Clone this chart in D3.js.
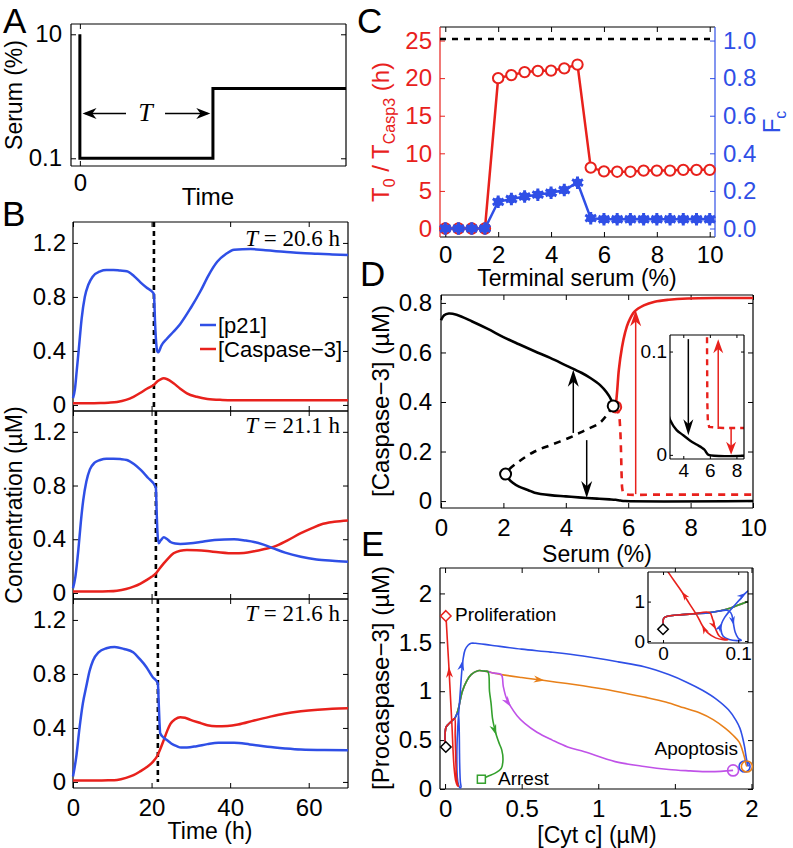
<!DOCTYPE html>
<html><head><meta charset="utf-8">
<script src="https://cdn.jsdelivr.net/npm/d3@7"></script>
<style>body{margin:0;background:#fff} svg{display:block} svg{font-family:"Liberation Sans",Arial,sans-serif}</style>
</head><body><svg id="fig" width="793" height="848"></svg>
<script>
// ---------------- DATA ----------------
// Panel A: serum protocol
const aTime  = [0, 0, 15, 15, 30];
const aSerum = [10, 0.1, 0.1, 1.33, 1.33];
const aYTicks = [0.1, 10];

// Panel B: time courses (h, µM)
const bSwitchT = [20.6, 21.1, 21.6];
const bLabels = ["20.6", "21.1", "21.6"];
const bTimeTicks = [0, 20, 40, 60];
const bConcTicks = [0, 0.4, 0.8, 1.2];
const b1P21 = [[0,0.05],[0.5,0.12],[0.94,0.25],[1.5,0.42],[2.2,0.64],[3,0.8],[3.9,0.89],[5,0.95],[6.9,0.99],[8.5,1.0],[10.3,1.0],[12,0.995],[13.7,0.99],[15.5,0.955],[17.1,0.91],[18.7,0.87],[20.1,0.84],[20.6,0.82],[20.9,0.6],[21.2,0.45],[21.5,0.395],[21.7,0.39],[22.5,0.44],[23.9,0.49],[25.5,0.54],[27.3,0.6],[30,0.72],[32.4,0.84],[34.5,0.96],[36.7,1.06],[39,1.12],[41,1.15],[45.2,1.155],[49,1.145],[53.7,1.135],[58,1.125],[62.3,1.12],[66,1.115],[70,1.11]];
const b1Casp = [[0,0.012],[4,0.012],[7,0.014],[9,0.017],[11.2,0.022],[13.5,0.037],[15.4,0.06],[17.2,0.09],[18.8,0.12],[20.6,0.15],[21.5,0.175],[22.3,0.19],[23.1,0.197],[24,0.19],[25.6,0.16],[27.3,0.12],[29,0.086],[31.5,0.06],[34.2,0.044],[38,0.037],[41,0.035],[50,0.034],[70,0.035]];
const b2P21 = [[0,0.035],[0.6,0.12],[1.36,0.32],[2,0.53],[2.6,0.69],[3.4,0.83],[4.3,0.92],[5.5,0.97],[6.9,0.99],[8.5,1.0],[10.3,1.0],[12,0.997],[13.7,0.99],[15.5,0.96],[17.1,0.92],[19,0.86],[21.0,0.79],[21.1,0.78],[21.3,0.6],[21.5,0.45],[21.8,0.37],[22.3,0.39],[23.1,0.415],[24,0.4],[24.8,0.38],[26,0.368],[27.3,0.365],[30,0.37],[32.4,0.38],[36,0.395],[41,0.4],[44,0.39],[46.1,0.38],[48.5,0.36],[51.2,0.33],[54,0.3],[58,0.27],[62,0.25],[66,0.24],[70,0.233]];
const b2Casp = [[0,0.01],[6,0.01],[9,0.012],[11.2,0.017],[13.5,0.03],[15.4,0.047],[17.2,0.07],[18.8,0.097],[20,0.12],[21.1,0.146],[22,0.18],[23.1,0.22],[24.3,0.26],[25.6,0.295],[27.3,0.315],[29,0.32],[31.5,0.318],[34.2,0.312],[37,0.303],[41,0.295],[43.5,0.298],[46.1,0.31],[48.5,0.325],[51.2,0.345],[54.5,0.39],[58,0.445],[61,0.485],[63.1,0.51],[66.5,0.53],[70,0.54]];
const b3P21 = [[0,0.04],[0.8,0.18],[1.7,0.41],[2.5,0.58],[3.4,0.71],[4.2,0.82],[5.1,0.9],[6.5,0.96],[8.5,0.99],[10.6,1.0],[13,0.985],[15.3,0.96],[17,0.91],[18.7,0.85],[20.2,0.78],[21.6,0.73],[21.8,0.6],[22.0,0.45],[22.2,0.36],[23,0.33],[23.9,0.31],[25,0.285],[26.4,0.265],[27.5,0.255],[29,0.255],[31.5,0.265],[34.2,0.28],[37,0.29],[41,0.29],[45,0.278],[49.5,0.26],[54,0.248],[58,0.24],[64,0.236],[70,0.235]];
const b3Casp = [[0,0.01],[6,0.01],[9,0.012],[11.2,0.015],[13.5,0.03],[15.4,0.05],[17.2,0.08],[18.8,0.11],[20.2,0.145],[21.4,0.19],[22.3,0.25],[23.1,0.31],[24,0.38],[24.8,0.43],[26,0.465],[27.3,0.48],[28.5,0.475],[29.9,0.46],[32,0.44],[34.2,0.42],[36.5,0.413],[39.3,0.415],[42,0.425],[46.1,0.455],[50,0.482],[53.7,0.505],[58,0.523],[62.3,0.535],[66,0.542],[70,0.545]];

// Panel C
const cSerum = [0,0.5,1,1.5,2,2.5,3,3.5,4,4.5,5,5.5,6,6.5,7,7.5,8,8.5,9,9.5,10];
const cT0 = [0,0,0,0,20.0,20.4,20.8,20.95,21.0,21.3,21.8,8.1,7.6,7.55,7.55,7.7,7.7,7.7,7.8,7.8,7.8];
const cFc = [0,0,0,0,0.142,0.157,0.17,0.18,0.19,0.205,0.244,0.055,0.049,0.049,0.049,0.049,0.049,0.049,0.049,0.049,0.049];
const cRef = 25.2;
const cXTicks = [0,2,4,6,8,10];
const cLTicks = [0,5,10,15,20,25];
const cRTicks = [0,0.2,0.4,0.6,0.8,1.0];

// Panel D: bifurcation diagram
const dUpper = [[0,0.73],[0.1,0.75],[0.25,0.757],[0.5,0.752],[1,0.725],[1.5,0.695],[2,0.662],[2.5,0.633],[3,0.605],[3.5,0.578],[4,0.548],[4.5,0.518],[4.8,0.496],[5.1,0.468],[5.3,0.44],[5.45,0.41],[5.52,0.384]];
const dUnstable = [[5.52,0.384],[5.3,0.345],[5.07,0.314],[4.6,0.285],[4.2,0.26],[3.6,0.23],[3.0,0.2],[2.5,0.16],[2.2,0.13],[2.07,0.109]];
const dLower = [[2.07,0.109],[2.15,0.092],[2.3,0.074],[2.5,0.058],[2.8,0.044],[3,0.034],[3.5,0.024],[4,0.019],[4.5,0.014],[5,0.01],[5.4,0.007],[5.6,0.005],[5.75,0.002],[5.9,0.0],[10,0.0]];
const dRedUp = [[5.6,0.38],[5.65,0.45],[5.7,0.53],[5.8,0.62],[5.9,0.68],[6.0,0.72],[6.2,0.765],[6.5,0.79],[6.85,0.805],[7.3,0.813],[7.9,0.818],[9,0.82],[10,0.82]];
const dRedDown = [[5.6,0.38],[5.7,0.35],[5.74,0.3],[5.77,0.2],[5.79,0.1],[5.81,0.05],[5.85,0.032],[5.95,0.027],[7,0.026],[10,0.026]];
const dFolds = [[5.52,0.384],[2.07,0.109]];
const dXTicks = [0,2,4,6,8,10];
const dYTicks = [0,0.2,0.4,0.6,0.8];
const dInXTicks = [4,6,8];
const dInYTicks = [0,0.1];

// Panel E: trajectories in [Cyt c]-[Procaspase-3] plane
const eShared = [[0.0,0.45],[0.001,0.58],[0.006,0.63],[0.02,0.66],[0.04,0.69],[0.062,0.72]];
const eSharedUp = [[0.075,0.76],[0.09,0.84],[0.113,1.0],[0.14,1.1],[0.17,1.17],[0.215,1.21],[0.26,1.205],[0.28,1.2]];
const eRedTail = [[0.066,0.55],[0.07,0.3],[0.075,0.12],[0.082,0.05],[0.086,0.03],[0.08,0.035],[0.07,0.08],[0.06,0.2],[0.052,0.4],[0.046,0.62],[0.035,0.95],[0.025,1.25],[0.015,1.52],[0.006,1.77]];
const eBlueTail = [[0.075,0.76],[0.085,0.78],[0.09,0.72],[0.093,0.55],[0.094,0.4],[0.096,0.22],[0.1,0.07],[0.104,0.02],[0.098,0.01],[0.088,0.04],[0.08,0.12],[0.077,0.3],[0.078,0.45],[0.082,0.6],[0.088,0.75],[0.095,0.9],[0.102,1.05],[0.11,1.22],[0.117,1.32],[0.13,1.42],[0.15,1.47],[0.17,1.49],[0.2,1.49],[0.3,1.47],[0.5,1.43],[0.69,1.40],[0.9,1.36],[1.13,1.30],[1.3,1.25],[1.46,1.17],[1.58,1.09],[1.68,1.01],[1.77,0.92],[1.85,0.81],[1.9,0.7],[1.925,0.62],[1.94,0.54],[1.955,0.43],[1.965,0.33],[1.975,0.25],[1.98,0.23]];
const eGreenTail = [[0.29,1.0],[0.30,0.88],[0.31,0.72],[0.32,0.64],[0.335,0.55],[0.355,0.46],[0.37,0.4],[0.378,0.3],[0.367,0.21],[0.345,0.18],[0.324,0.16],[0.28,0.13],[0.237,0.1]];
const eOrangeTail = [[0.32,1.185],[0.367,1.17],[0.5,1.14],[0.65,1.11],[0.9,1.055],[1.11,1.0],[1.3,0.94],[1.44,0.89],[1.56,0.83],[1.66,0.78],[1.75,0.71],[1.83,0.62],[1.88,0.55],[1.92,0.48],[1.94,0.4],[1.955,0.32],[1.965,0.25],[1.97,0.23]];
const eMagentaTail = [[0.32,1.185],[0.367,1.17],[0.38,1.05],[0.40,0.93],[0.43,0.84],[0.47,0.75],[0.52,0.67],[0.6,0.58],[0.7,0.5],[0.8,0.43],[0.91,0.38],[1.11,0.28],[1.3,0.23],[1.46,0.2],[1.6,0.185],[1.68,0.178],[1.8,0.18],[1.88,0.19]];
const eStart = [0.005, 0.43];
const eProlif = [0.005, 1.77];
const eArrest = [0.237, 0.1];
const eApop = [[1.88,0.19],[1.955,0.23],[1.97,0.23]];
const eXTicks = [0,0.5,1,1.5,2];
const eYTicks = [0,0.5,1,1.5,2];
const eInXTicks = [0,0.1];
const eInYTicks = [0,1];

// ---------------- DRAWING ----------------
const BLUE='#2f4fe6', RED='#e8211c', GREEN='#33a02c', ORANGE='#e8801a', MAGENTA='#c052e8';
const FS = 24;
const SERIF = '"Liberation Serif","DejaVu Serif",serif';
const svg = d3.select('#fig');
const defs = svg.append('defs');

function axes(g, xS, yS, o) {
  const [x0, x1] = xS.range(), [y0, y1] = yS.range();
  const tl = o.tl || 5, fs = o.fs || FS;
  const mk = (axis, tr, vals, fmt, pad, color) => {
    const a = g.append('g').attr('transform', tr)
      .call(axis.tickValues(vals).tickSize(-tl).tickPadding(pad).tickFormat(fmt));
    a.select('.domain').remove();
    a.attr('font-family', null).attr('font-size', null);
    a.selectAll('line').attr('stroke', color || '#000').attr('stroke-width', 1);
    a.selectAll('text').attr('font-size', fs).attr('fill', color || '#000');
    return a;
  };
  const none = () => '';
  mk(d3.axisBottom(xS), `translate(0,${y0})`, o.xt, o.xf || none, o.xpad ?? 13);
  mk(d3.axisTop(xS), `translate(0,${y1})`, o.xt, none, 0);
  mk(d3.axisLeft(yS), `translate(${x0},0)`, o.yt, o.yf || none, o.ypad ?? 8, o.lc);
  mk(d3.axisRight(o.yR || yS), `translate(${x1},0)`, o.ytR || o.yt, o.yfR || none, o.ypadR ?? 8, o.rc);
  const sw = o.sw || 1.2;
  g.append('line').attr('x1', x0).attr('x2', x1).attr('y1', y0).attr('y2', y0).attr('stroke', '#000').attr('stroke-width', sw);
  g.append('line').attr('x1', x0).attr('x2', x1).attr('y1', y1).attr('y2', y1).attr('stroke', '#000').attr('stroke-width', sw);
  g.append('line').attr('x1', x0).attr('x2', x0).attr('y1', y0).attr('y2', y1).attr('stroke', o.lc || '#000').attr('stroke-width', sw);
  g.append('line').attr('x1', x1).attr('x2', x1).attr('y1', y0).attr('y2', y1).attr('stroke', o.rc || '#000').attr('stroke-width', sw);
}
function fmtNum(d) { return String(d); }
function label(g, x, y, txt, o = {}) {
  return g.append('text').attr('x', x).attr('y', y).attr('text-anchor', o.anchor || 'middle')
    .attr('font-size', o.fs || FS).attr('fill', o.color || '#000').text(txt);
}
function vlabel(g, x, y, txt, o = {}) {
  return g.append('text').attr('transform', `translate(${x},${y}) rotate(-90)`).attr('text-anchor', 'middle')
    .attr('font-size', o.fs || FS).attr('fill', o.color || '#000').text(txt);
}
function head(g, x, y, ang, color, len, wid) {
  g.append('path').attr('d', `M0,0 L${-len},${-wid/2} L${-len*0.7},0 L${-len},${wid/2} Z`)
    .attr('transform', `translate(${x},${y}) rotate(${ang})`).attr('fill', color);
}
function vArrow(g, xS, yS, x, ya, yb, color, w, len, wid) {
  const px = xS(x), p1 = yS(ya), p2 = yS(yb);
  const dir = p2 < p1 ? -1 : 1;
  g.append('line').attr('x1', px).attr('x2', px).attr('y1', p1).attr('y2', p2 - dir * len * 0.6)
    .attr('stroke', color).attr('stroke-width', w);
  head(g, px, p2, dir < 0 ? -90 : 90, color, len, wid);
}
function pathArrow(g, pts, xS, yS, ax, ay, color, len, wid) {
  let best = 0, bd = Infinity;
  pts.forEach((p, i) => {
    const dx = xS(p[0]) - xS(ax), dy = yS(p[1]) - yS(ay);
    const d = dx * dx + dy * dy; if (d < bd) { bd = d; best = i; }
  });
  const i = Math.min(best, pts.length - 2);
  const a = pts[i], b = pts[i + 1];
  const ang = Math.atan2(yS(b[1]) - yS(a[1]), xS(b[0]) - xS(a[0])) * 180 / Math.PI;
  const t = pts[best];
  head(g, xS(t[0]), yS(t[1]), ang, color, len, wid);
}
function clip(id, x, y, w, h) {
  defs.append('clipPath').attr('id', id).append('rect').attr('x', x).attr('y', y).attr('width', w).attr('height', h);
  return `url(#${id})`;
}
function letter(t, x, y) { label(svg, x, y, t, { fs: 35, anchor: 'start' }); }

// ---------- Panel A ----------
{
  const g = svg.append('g');
  const xS = d3.scaleLinear().domain([-1, 30]).range([71, 346]);
  const yS = d3.scaleLog().domain([0.0751, 14.65]).range([166, 24]);
  axes(g, xS, yS, { xt: [0], yt: aYTicks, xf: fmtNum, yf: d => d >= 10 ? '10' : '0.1', xpad: 8, ypad: 9 });
  const pts = aTime.map((t, i) => [t, aSerum[i]]);
  g.append('path').attr('d', d3.line().x(d => xS(d[0])).y(d => yS(d[1]))(pts))
    .attr('fill', 'none').attr('stroke', '#000').attr('stroke-width', 3);
  const ay = yS(0.53);
  g.append('line').attr('x1', xS(0.6)).attr('x2', xS(5.2)).attr('y1', ay).attr('y2', ay).attr('stroke', '#000').attr('stroke-width', 1.5);
  g.append('line').attr('x1', xS(9.6)).attr('x2', xS(14.4)).attr('y1', ay).attr('y2', ay).attr('stroke', '#000').attr('stroke-width', 1.5);
  head(g, xS(0.3), ay, 180, '#000', 14, 11);
  head(g, xS(14.7), ay, 0, '#000', 14, 11);
  g.append('text').attr('x', xS(7.4)).attr('y', ay + 8).attr('text-anchor', 'middle')
    .style('font-family', SERIF).style('font-style', 'italic').attr('font-size', 26).text('T');
  vlabel(g, 22, 95, 'Serum (%)', { fs: 23 });
  label(g, 208, 205, 'Time');
  letter('A', 3, 33);
}

// ---------- Panel B ----------
{
  const xS = d3.scaleLinear().domain([0, 70]).range([73, 348]);
  const ranges = [[411, 222], [599, 411], [788, 599]];
  const series = [[b1P21, b1Casp], [b2P21, b2Casp], [b3P21, b3Casp]];
  ranges.forEach((r, k) => {
    const g = svg.append('g');
    const yS = d3.scaleLinear().domain([-0.045, 1.355]).range(r);
    axes(g, xS, yS, { xt: bTimeTicks, yt: bConcTicks, xf: k === 2 ? fmtNum : null, yf: fmtNum, ypad: 7, xpad: 11 });
    const ln = d3.line().x(d => xS(d[0])).y(d => yS(d[1])).curve(d3.curveMonotoneX);
    const yBot = k === 2 ? yS(0) : r[0];
    g.append('line').attr('x1', xS(bSwitchT[k])).attr('x2', xS(bSwitchT[k])).attr('y1', r[1]).attr('y2', yBot)
      .attr('stroke', '#000').attr('stroke-width', 2.6).attr('stroke-dasharray', '5,4');
    g.append('path').attr('d', ln(series[k][1])).attr('fill', 'none').attr('stroke', RED).attr('stroke-width', 2.5);
    g.append('path').attr('d', ln(series[k][0])).attr('fill', 'none').attr('stroke', BLUE).attr('stroke-width', 2.5);
    const t = g.append('text').attr('x', 340).attr('y', r[1] + (k === 0 ? 24 : 22)).attr('text-anchor', 'end')
      .style('font-family', SERIF).attr('font-size', 23);
    t.append('tspan').style('font-style', 'italic').text('T');
    t.append('tspan').text(' = ' + bLabels[k] + ' h');
    if (k === 0) {
      [[BLUE, '[p21]', 325], [RED, '[Caspase\u22123]', 349]].forEach(([c, s, y]) => {
        g.append('line').attr('x1', 200).attr('x2', 216).attr('y1', y).attr('y2', y).attr('stroke', c).attr('stroke-width', 2.5);
        g.append('text').attr('x', 218).attr('y', y + 8).attr('font-size', 22).text(s);
      });
    }
  });
  vlabel(svg, 22, 505, 'Concentration (\u00b5M)', { fs: 23 });
  label(svg, 210, 839, 'Time (h)', { fs: 23 });
  letter('B', 2, 226);
}

// ---------- Panel C ----------
{
  const g = svg.append('g');
  const xS = d3.scaleLinear().domain([-0.2, 10.2]).range([440, 715]);
  const yL = d3.scaleLinear().domain([-1.13, 26.8]).range([237, 27]);
  const yR = d3.scaleLinear().domain([-1.13 / 25, 26.8 / 25]).range([237, 27]);
  axes(g, xS, yL, { xt: cXTicks, yt: cLTicks, xf: fmtNum, yf: fmtNum, xpad: 9, ypad: 8,
    yR: yR, ytR: cRTicks, yfR: d3.format('.1f'), ypadR: 8, lc: RED, rc: BLUE });
  g.append('line').attr('x1', 440).attr('x2', 715).attr('y1', yL(cRef)).attr('y2', yL(cRef))
    .attr('stroke', '#000').attr('stroke-width', 2.5).attr('stroke-dasharray', '6,6');
  const redPts = cSerum.map((s, i) => [s, cT0[i]]);
  const bluePts = cSerum.map((s, i) => [s, cFc[i]]);
  g.append('path').attr('d', d3.line().x(d => xS(d[0])).y(d => yL(d[1]))(redPts)).attr('fill', 'none').attr('stroke', RED).attr('stroke-width', 2.5);
  g.selectAll('.rc').data(redPts).join('circle').attr('cx', d => xS(d[0])).attr('cy', d => yL(d[1])).attr('r', 5.2)
    .attr('fill', '#fff').attr('stroke', RED).attr('stroke-width', 2);
  g.append('path').attr('d', d3.line().x(d => xS(d[0])).y(d => yR(d[1]))(bluePts)).attr('fill', 'none').attr('stroke', BLUE).attr('stroke-width', 2.5);
  const star = d3.symbol().type(d3.symbolAsterisk).size(110)();
  g.selectAll('.bs').data(bluePts).join('path').attr('d', star).attr('transform', d => `translate(${xS(d[0])},${yR(d[1])})`)
    .attr('fill', 'none').attr('stroke', BLUE).attr('stroke-width', 3);
  g.selectAll('.bc').data(bluePts).join('circle').attr('cx', d => xS(d[0])).attr('cy', d => yR(d[1])).attr('r', 4.5).attr('fill', BLUE);
  const tl = g.append('text').attr('transform', 'translate(389,132) rotate(-90)').attr('text-anchor', 'middle')
    .attr('font-size', FS).attr('fill', RED);
  tl.append('tspan').text('T');
  tl.append('tspan').attr('font-size', 16).attr('dy', 6).text('0');
  tl.append('tspan').attr('dy', -6).text(' / T');
  tl.append('tspan').attr('font-size', 16).attr('dy', 6).text('Casp3');
  tl.append('tspan').attr('dy', -6).text(' (h)');
  const tr = g.append('text').attr('transform', 'translate(780,122) rotate(-90)').attr('text-anchor', 'middle')
    .attr('font-size', FS).attr('fill', BLUE);
  tr.append('tspan').text('F');
  tr.append('tspan').attr('font-size', 16).attr('dy', 6).text('c');
  label(g, 577, 286, 'Terminal serum (%)', { fs: 23 });
  letter('C', 357, 33);
}

// ---------- Panel D ----------
{
  const g = svg.append('g');
  const xS = d3.scaleLinear().domain([0, 10]).range([441, 753]);
  const yS = d3.scaleLinear().domain([-0.028, 0.832]).range([508, 295]);
  axes(g, xS, yS, { xt: dXTicks, yt: dYTicks, xf: fmtNum, yf: fmtNum, xpad: 11, ypad: 9 });
  const draw = (gg, xs, ys, pts, color, w, dash, curve) => gg.append('path')
    .attr('d', d3.line().x(d => xs(d[0])).y(d => ys(d[1])).curve(curve || d3.curveCatmullRom)(pts))
    .attr('fill', 'none').attr('stroke', color).attr('stroke-width', w).attr('stroke-dasharray', dash || null);
  draw(g, xS, yS, dUpper, '#000', 2.6);
  draw(g, xS, yS, dUnstable, '#000', 2.6, '7,6');
  draw(g, xS, yS, dLower, '#000', 2.6);
  draw(g, xS, yS, dRedDown, RED, 2.6, '7,6');
  draw(g, xS, yS, dRedUp, RED, 2.6);
  vArrow(g, xS, yS, 4.24, 0.275, 0.53, '#000', 1.5, 17, 11);
  vArrow(g, xS, yS, 4.67, 0.246, 0.012, '#000', 1.5, 17, 11);
  vArrow(g, xS, yS, 6.24, 0.028, 0.77, RED, 1.5, 16, 11);
  g.append('circle').attr('cx', xS(5.6)).attr('cy', yS(0.38)).attr('r', 5.5).attr('fill', 'none').attr('stroke', RED).attr('stroke-width', 2);
  g.selectAll('.fold').data(dFolds).join('circle').attr('cx', d => xS(d[0])).attr('cy', d => yS(d[1])).attr('r', 5.5)
    .attr('fill', '#fff').attr('stroke', '#000').attr('stroke-width', 2);
  // inset
  const xi = d3.scaleLinear().domain([3, 8.57]).range([670, 744]);
  const yi = d3.scaleLinear().domain([-0.004, 0.116]).range([459, 335]);
  const gi = svg.append('g');
  gi.append('rect').attr('x', 670).attr('y', 335).attr('width', 74).attr('height', 124).attr('fill', '#fff');
  const cp = clip('clipD', 670, 335, 74, 124);
  const gc = gi.append('g').attr('clip-path', cp);
  draw(gc, xi, yi, dLower, '#000', 2.4);
  draw(gc, xi, yi, dRedDown, RED, 2.4, '6,5', d3.curveLinear);
  vArrow(gi, xi, yi, 4.38, 0.112, 0.019, '#000', 1.5, 16, 10);
  vArrow(gi, xi, yi, 6.63, 0.025, 0.112, RED, 1.5, 14, 10);
  vArrow(gi, xi, yi, 7.6, 0.025, 0.0, RED, 1.5, 13, 10);
  axes(gi, xi, yi, { xt: dInXTicks, yt: dInYTicks, xf: fmtNum, yf: fmtNum, xpad: 5, ypad: 3, fs: 19, tl: 3 });
  vlabel(g, 389, 401, '[Caspase\u22123] (\u00b5M)');
  label(g, 597, 562, 'Serum (%)', { fs: 23 });
  letter('D', 360, 286);
}

// ---------- Panel E ----------
{
  const g = svg.append('g');
  const xS = d3.scaleLinear().domain([-0.033, 2.01]).range([440, 753]);
  const yS = d3.scaleLinear().domain([0, 2.26]).range([789, 568]);
  axes(g, xS, yS, { xt: eXTicks, yt: eYTicks, xf: fmtNum, yf: fmtNum, xpad: 11, ypad: 8 });
  const red = eShared.concat(eRedTail);
  const blue = eShared.concat(eBlueTail);
  const green = eShared.concat(eSharedUp, eGreenTail);
  const orange = eShared.concat(eSharedUp, eOrangeTail);
  const magenta = eShared.concat(eSharedUp, eMagentaTail);
  const order = [[orange, ORANGE], [magenta, MAGENTA], [green, GREEN], [blue, BLUE], [red, RED]];
  const drawAll = (gg, xs, ys, w) => order.forEach(([p, c]) => gg.append('path')
    .attr('d', d3.line().x(d => xs(d[0])).y(d => ys(d[1])).curve(d3.curveCatmullRom.alpha(0.5))(p))
    .attr('fill', 'none').attr('stroke', c).attr('stroke-width', w));
  drawAll(g, xS, yS, 1.6);
  pathArrow(g, red, xS, yS, 0.033, 1.37, RED, 11, 7);
  pathArrow(g, blue, xS, yS, 0.117, 1.32, BLUE, 11, 7);
  pathArrow(g, green, xS, yS, 0.335, 0.55, GREEN, 11, 7);
  pathArrow(g, orange, xS, yS, 0.65, 1.11, ORANGE, 11, 7);
  pathArrow(g, magenta, xS, yS, 0.43, 0.84, MAGENTA, 11, 7);
  const diamond = d3.symbol().type(d3.symbolDiamond2).size(70)();
  g.append('path').attr('d', diamond).attr('transform', `translate(${xS(eStart[0])},${yS(eStart[1])})`).attr('fill', '#fff').attr('stroke', '#000').attr('stroke-width', 1.5);
  g.append('path').attr('d', diamond).attr('transform', `translate(${xS(eProlif[0])},${yS(eProlif[1])})`).attr('fill', '#fff').attr('stroke', RED).attr('stroke-width', 1.5);
  g.append('rect').attr('x', xS(eArrest[0]) - 4).attr('y', yS(eArrest[1]) - 4).attr('width', 8).attr('height', 8).attr('fill', '#fff').attr('stroke', GREEN).attr('stroke-width', 1.5);
  [MAGENTA, BLUE, ORANGE].forEach((c, i) => g.append('circle').attr('cx', xS(eApop[i][0])).attr('cy', yS(eApop[i][1])).attr('r', 5.5)
    .attr('fill', 'none').attr('stroke', c).attr('stroke-width', 1.6));
  label(g, 455, 621, 'Proliferation', { fs: 19, anchor: 'start' });
  label(g, 738, 755, 'Apoptosis', { fs: 19, anchor: 'end' });
  label(g, 498, 785, 'Arrest', { fs: 19, anchor: 'start' });
  // inset
  const xi = d3.scaleLinear().domain([-0.02, 0.113]).range([648, 748]);
  const yi = d3.scaleLinear().domain([-0.05, 1.75]).range([643, 572]);
  const gi = svg.append('g');
  gi.append('rect').attr('x', 648).attr('y', 572).attr('width', 100).attr('height', 71).attr('fill', '#fff');
  const gc = gi.append('g').attr('clip-path', clip('clipE', 648, 572, 100, 71));
  drawAll(gc, xi, yi, 1.6);
  pathArrow(gc, red, xi, yi, 0.029, 1.35, RED, 9, 6);
  pathArrow(gc, red, xi, yi, 0.052, 0.45, RED, 9, 6);
  pathArrow(gc, red, xi, yi, 0.07, 0.3, RED, 9, 6);
  pathArrow(gc, blue, xi, yi, 0.094, 0.4, BLUE, 9, 6);
  pathArrow(gc, blue, xi, yi, 0.078, 0.45, BLUE, 9, 6);
  pathArrow(gc, blue, xi, yi, 0.11, 1.22, BLUE, 9, 6);
  gc.append('path').attr('d', diamond).attr('transform', `translate(${xi(0)},${yi(0.3)})`).attr('fill', '#fff').attr('stroke', '#000').attr('stroke-width', 1.5);
  axes(gi, xi, yi, { xt: eInXTicks, yt: eInYTicks, xf: fmtNum, yf: fmtNum, xpad: 4, ypad: 3, fs: 19, tl: 3 });
  vlabel(g, 389, 678, '[Procaspase\u22123] (\u00b5M)');
  label(g, 597, 843, '[Cyt c] (\u00b5M)', { fs: 23 });
  letter('E', 361, 556);
}
</script></body></html>
